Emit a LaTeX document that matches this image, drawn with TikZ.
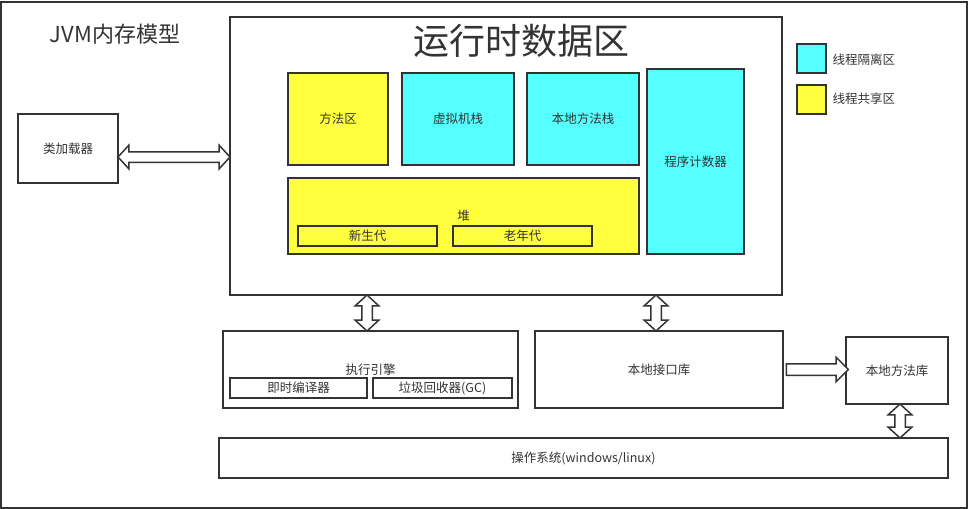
\documentclass[tikz,border=0pt]{standalone}
\usepackage{fontspec}
\setmainfont{Noto Sans CJK SC}
\usepackage{xcolor}
\usetikzlibrary{shapes.arrows}
\usetikzlibrary{calc}
\definecolor{strich}{HTML}{333333}
\definecolor{gelb}{HTML}{FFFF40}
\definecolor{tuerkis}{HTML}{55FFFF}

\begin{document}
\begin{tikzpicture}[x=1pt, y=-1pt,
        box/.style={draw=strich, line width=1.5pt, rectangle, inner sep=0pt, text=strich, font=\fontsize{12.5}{15}\selectfont},
        shared/.style={box, fill=gelb},
        private/.style={box, fill=tuerkis},
        twoway/.style={double arrow, draw=strich, line width=1.5pt, fill=white, inner sep=4.5pt, minimum width=0pt, double arrow head extend=6.5pt, double arrow tip angle=95},
        oneway/.style={single arrow, draw=strich, line width=1.5pt, fill=white, inner sep=4.5pt, minimum width=0pt, single arrow head extend=6.5pt, single arrow tip angle=90}]
        	\useasboundingbox (0,0) rectangle (970,509);
        	\draw[strich, line width=2pt] (1,1.5) rectangle (966.5,507.5);
        	\node[text=strich, font=\fontsize{22}{26}\selectfont] (U) at (115,34) {JVM内存模型};
        	% runtime data area
        	\node[box, minimum width=552, minimum height=278] (B) at (506,156) {};
        	\node[text=strich, font=\fontsize{36}{40}\selectfont] (C) at (521,41) {运行时数据区};
        	\node[shared, minimum width=100, minimum height=92] (D) at (338,119) {方法区};
        	\node[private, minimum width=112, minimum height=92] (E) at (458,119) {虚拟机栈};
        	\node[private, minimum width=112, minimum height=92] (F) at (583,119) {本地方法栈};
        	\node[private, minimum width=97, minimum height=185] (G) at (695.5,161.5) {程序计数器};
        	\node[shared, minimum width=351, minimum height=76] (H) at (463.5,216) {堆};
        	\node[box, minimum width=139, minimum height=20] (I) at (367.5,236) {新生代};
        	\node[box, minimum width=139, minimum height=20] (J) at (522.5,236) {老年代};
        	% legend
        	\node[private, minimum size=29] (Q) at (811.5,58.5) {};
        	\node[shared, minimum size=29] (R) at (811.5,99.5) {};
        	\node[text=strich, font=\fontsize{12.5}{15}\selectfont, anchor=west] (S) at (829,60) {线程隔离区};
        	\node[text=strich, font=\fontsize{12.5}{15}\selectfont, anchor=west] (T) at (829,99) {线程共享区};
        	% outer boxes
        	\node[box, minimum width=100, minimum height=69] (A) at (68,148.5) {类加载器};
        	\node[box, minimum width=295, minimum height=77] (K) at (370.5,369.5) {执行引擎};
        	\node[box, minimum width=137, minimum height=20] (L) at (298.5,388) {即时编译器};
        	\node[box, minimum width=139, minimum height=20] (M) at (442.5,388) {垃圾回收器(GC)};
        	\node[box, minimum width=248, minimum height=77] (N) at (659,369.5) {本地接口库};
        	\node[box, minimum width=102, minimum height=67] (O) at (897,370.5) {本地方法库};
        	\node[box, minimum width=729, minimum height=40] (P) at (583.5,458) {操作系统(windows/linux)};
        	% block arrows
        	\node[twoway, shape border rotate=180, minimum height=112] (a1) at ($(A.east)!.5!(A.east -| B.west)+(0,8.5)$) {};
        	\node[twoway, shape border rotate=90, minimum height=36] (a2) at ($(B.south -| K.north)!.5!(K.north)+(-3.5,0)$) {};
        	\node[twoway, shape border rotate=90, minimum height=36] (a3) at ($(B.south -| N.north)!.5!(N.north)+(-3,0)$) {};
        	\node[oneway, inner ysep=5pt, minimum height=62] (a4) at ($(N.east)!.5!(N.east -| O.west)$) {};
        	\node[twoway, shape border rotate=90, minimum height=34] (a5) at ($(O.south)!.5!(O.south |- P.north)+(3,0)$) {};
    	\end{tikzpicture}
\end{document}
